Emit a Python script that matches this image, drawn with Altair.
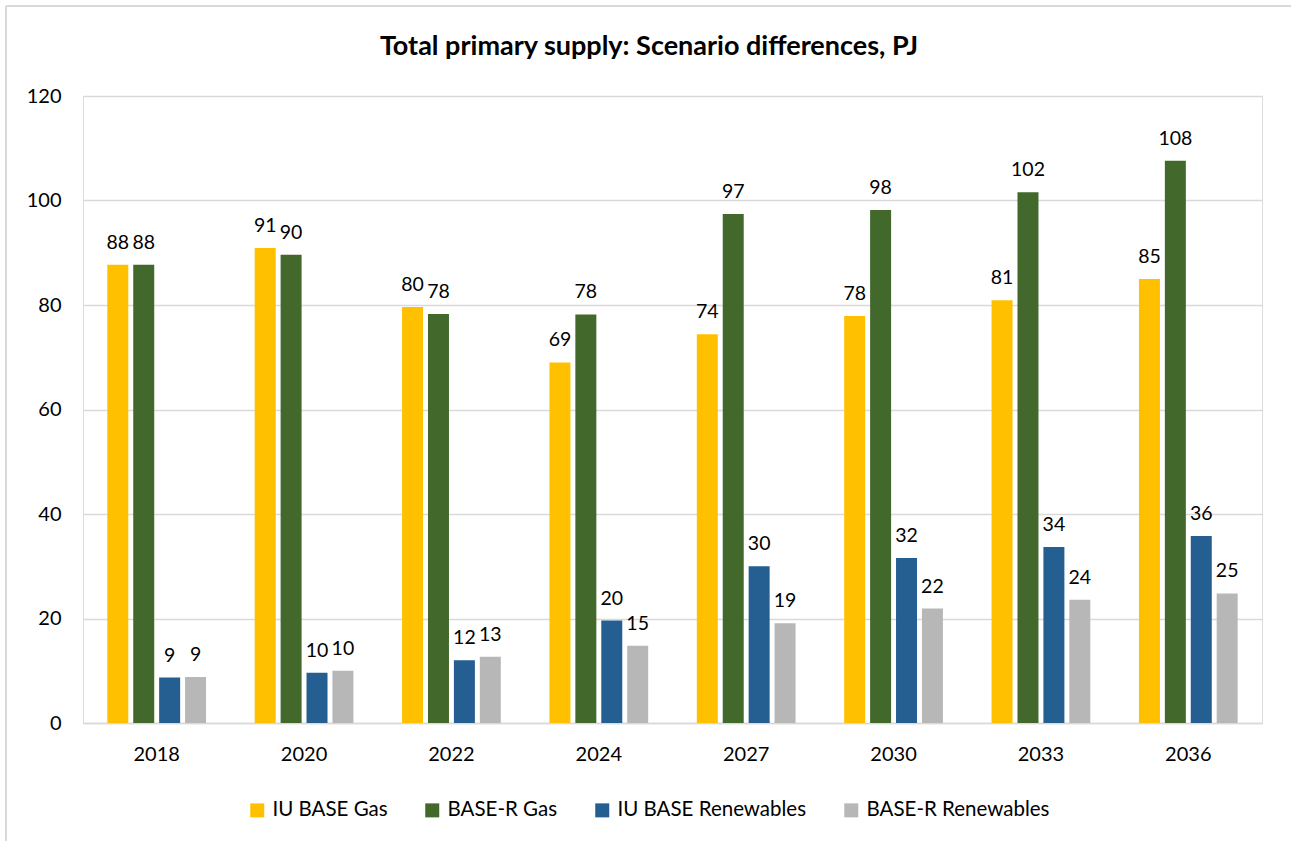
import altair as alt
import pandas as pd

years = ["2018", "2020", "2022", "2024", "2027", "2030", "2033", "2036"]
series = ["IU BASE Gas", "BASE-R Gas", "IU BASE Renewables", "BASE-R Renewables"]
iu_gas = [87.7, 90.9, 79.6, 69.0, 74.4, 77.9, 80.9, 85.0]
baser_gas = [87.7, 89.6, 78.3, 78.2, 97.4, 98.2, 101.6, 107.6]
iu_ren = [8.7, 9.6, 12.0, 19.6, 30.0, 31.6, 33.7, 35.8]
baser_ren = [8.8, 10.0, 12.7, 14.8, 19.1, 21.9, 23.6, 24.8]
colors = ["#FFC000", "#43682B", "#255E91", "#B7B7B7"]
title_text = "Total primary supply: Scenario differences, PJ"

rows = []
for s, vals in zip(series, [iu_gas, baser_gas, iu_ren, baser_ren]):
    for y, v in zip(years, vals):
        rows.append({"year": y, "series": s, "value": v})
df = pd.DataFrame(rows)

FONT = "Lato"

base = alt.Chart(df).encode(
    x=alt.X("year:N", sort=years, title=None,
            scale=alt.Scale(paddingInner=0.33, paddingOuter=0.165),
            axis=alt.Axis(labelAngle=0, ticks=False, domainColor="#D9D9D9", domainWidth=1.5,
                          labelPadding=21, labelFontSize=20, labelColor="#000000", labelFont=FONT)),
    xOffset=alt.XOffset("series:N", sort=series, scale=alt.Scale(paddingInner=0.19, paddingOuter=0)),
)

bars = base.mark_bar().encode(
    y=alt.Y("value:Q", title=None,
            scale=alt.Scale(domain=[0, 120]),
            axis=alt.Axis(values=[0, 20, 40, 60, 80, 100, 120], ticks=False, domain=False,
                          gridColor="#D9D9D9", gridWidth=1.5, labelPadding=22,
                          labelFontSize=20, labelColor="#000000", labelFont=FONT)),
    color=alt.Color("series:N", sort=series,
                    scale=alt.Scale(domain=series, range=colors),
                    legend=alt.Legend(title=None, orient="none", direction="horizontal",
                                      legendX=164, legendY=704,
                                      symbolType="square", symbolSize=196, symbolStrokeWidth=0,
                                      labelFontSize=20.5, labelFont=FONT, labelColor="#000000",
                                      labelLimit=0, columnPadding=34, labelOffset=5)),
)

labels = base.mark_text(baseline="bottom", dy=-12, fontSize=19.5, font=FONT, color="#000000").encode(
    y="value:Q",
    text=alt.Text("value:Q", format=".0f"),
)

# chart title as a text mark (so it is unaffected by the frame lines)
title = alt.Chart(pd.DataFrame({"t": [title_text]})).mark_text(
    fontSize=27, font=FONT, fontWeight="bold", color="#000000", align="center", baseline="middle"
).encode(text="t:N", x=alt.value(566), y=alt.value(-49))

# light outer frame (top and left edges visible in the reference)
frame_top = alt.Chart(df).mark_rule(color="#D9D9D9", strokeWidth=2).encode(
    x=alt.value(-77), x2=alt.value(1220), y=alt.value(-90))
frame_left = alt.Chart(df).mark_rule(color="#D9D9D9", strokeWidth=2).encode(
    x=alt.value(-77), y=alt.value(-90), y2=alt.value(760))

chart = alt.layer(frame_top, frame_left, title, bars, labels).properties(
    width=1179, height=627,
    autosize=alt.AutoSizeParams(type="none"),
    padding={"left": 83, "top": 96, "right": 29, "bottom": 118},
).configure_view(stroke=None).configure(background="white")

chart.save("out.html", embed_options={"renderer": "svg", "actions": False})
